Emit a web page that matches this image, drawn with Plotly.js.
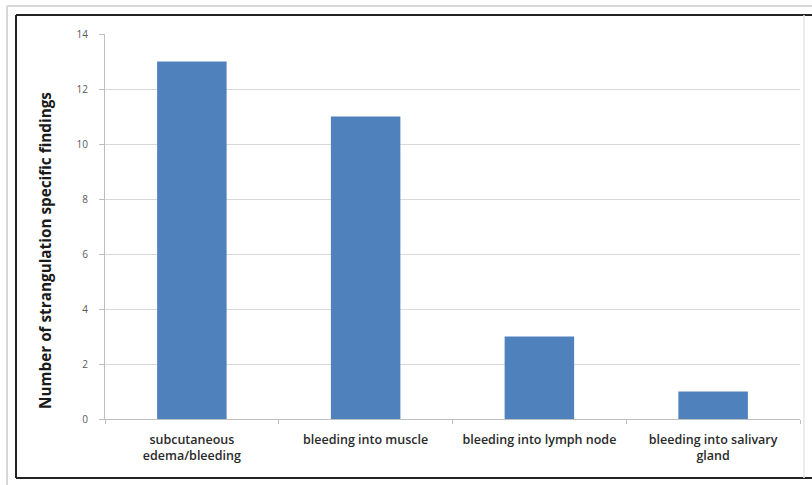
<!DOCTYPE html>
<html>
<head>
<meta charset="utf-8">
<script src="https://cdn.plot.ly/plotly-3.0.1.min.js"></script>
<style>html,body{margin:0;padding:0;background:#fff;}#chart{width:812px;height:485px;}</style>
</head>
<body>
<div id="chart"></div>
<script>
const categories = ["subcutaneous<br>edema/bleeding", "bleeding into muscle", "bleeding into lymph node", "bleeding into salivary<br>gland"];
const counts = [13, 11, 3, 1];
const yTicks = [0, 2, 4, 6, 8, 10, 12, 14];
const yTitle = "Number of strangulation specific findings";

const W = 812, H = 485;
const L = 105, R = 12, T = 34, B = 66;
const pw = W - L - R, ph = H - T - B;
function px(x) { return (x - L) / pw; }
function py(y) { return (H - B - y) / ph; }
function line(x0, y0, x1, y1, color, w) {
  return {type: 'line', xref: 'paper', yref: 'paper', x0: px(x0), y0: py(y0), x1: px(x1), y1: py(y1),
          line: {color: color, width: w}, layer: 'above'};
}
const shapes = [
  line(7, 6, 812, 6, '#d8d8d8', 2),
  line(7, 6, 7, 485, '#d8d8d8', 2),
  line(16, 15, 812, 15, '#222', 2),
  line(16, 15, 16, 478, '#222', 2),
  line(16, 478, 812, 478, '#222', 2),
  line(804, 15, 804, 478, '#e6e6e6', 1.5)
];

Plotly.newPlot('chart', [{
  type: 'bar',
  x: categories,
  y: counts,
  marker: {color: '#4f81bd'},
  width: 0.4,
  hoverinfo: 'none'
}], {
  width: W, height: H,
  margin: {l: L, r: R, t: T, b: B, pad: 0},
  paper_bgcolor: '#fff',
  plot_bgcolor: '#fff',
  showlegend: false,
  font: {family: 'Open Sans, Liberation Sans, sans-serif', color: '#333'},
  xaxis: {
    showgrid: false,
    showline: true,
    linecolor: '#bfbfbf',
    linewidth: 1,
    ticks: 'outside',
    tickson: 'boundaries',
    ticklen: 4,
    tickcolor: '#bfbfbf',
    ticklabelstandoff: 9,
    tickfont: {size: 12.5, color: '#2a2a2a', weight: 600},
    zeroline: false
  },
  yaxis: {
    range: [0, 14],
    tickvals: yTicks,
    ticktext: yTicks.map(String),
    showgrid: true,
    gridcolor: '#d9d9d9',
    gridwidth: 1,
    showline: true,
    linecolor: '#bfbfbf',
    ticks: 'outside',
    ticklen: 5,
    tickcolor: '#bfbfbf',
    ticklabelstandoff: 9,
    tickfont: {size: 10, color: '#595959'},
    zeroline: false
  },
  annotations: [{
    text: '<b>' + yTitle + '</b>',
    textangle: -90,
    xref: 'paper', yref: 'paper',
    x: px(45), y: py(251),
    xanchor: 'center', yanchor: 'middle',
    showarrow: false,
    font: {size: 15.3, color: '#1a1a1a'}
  }],
  shapes: shapes
}, {staticPlot: true, displayModeBar: false});
</script>
</body>
</html>
